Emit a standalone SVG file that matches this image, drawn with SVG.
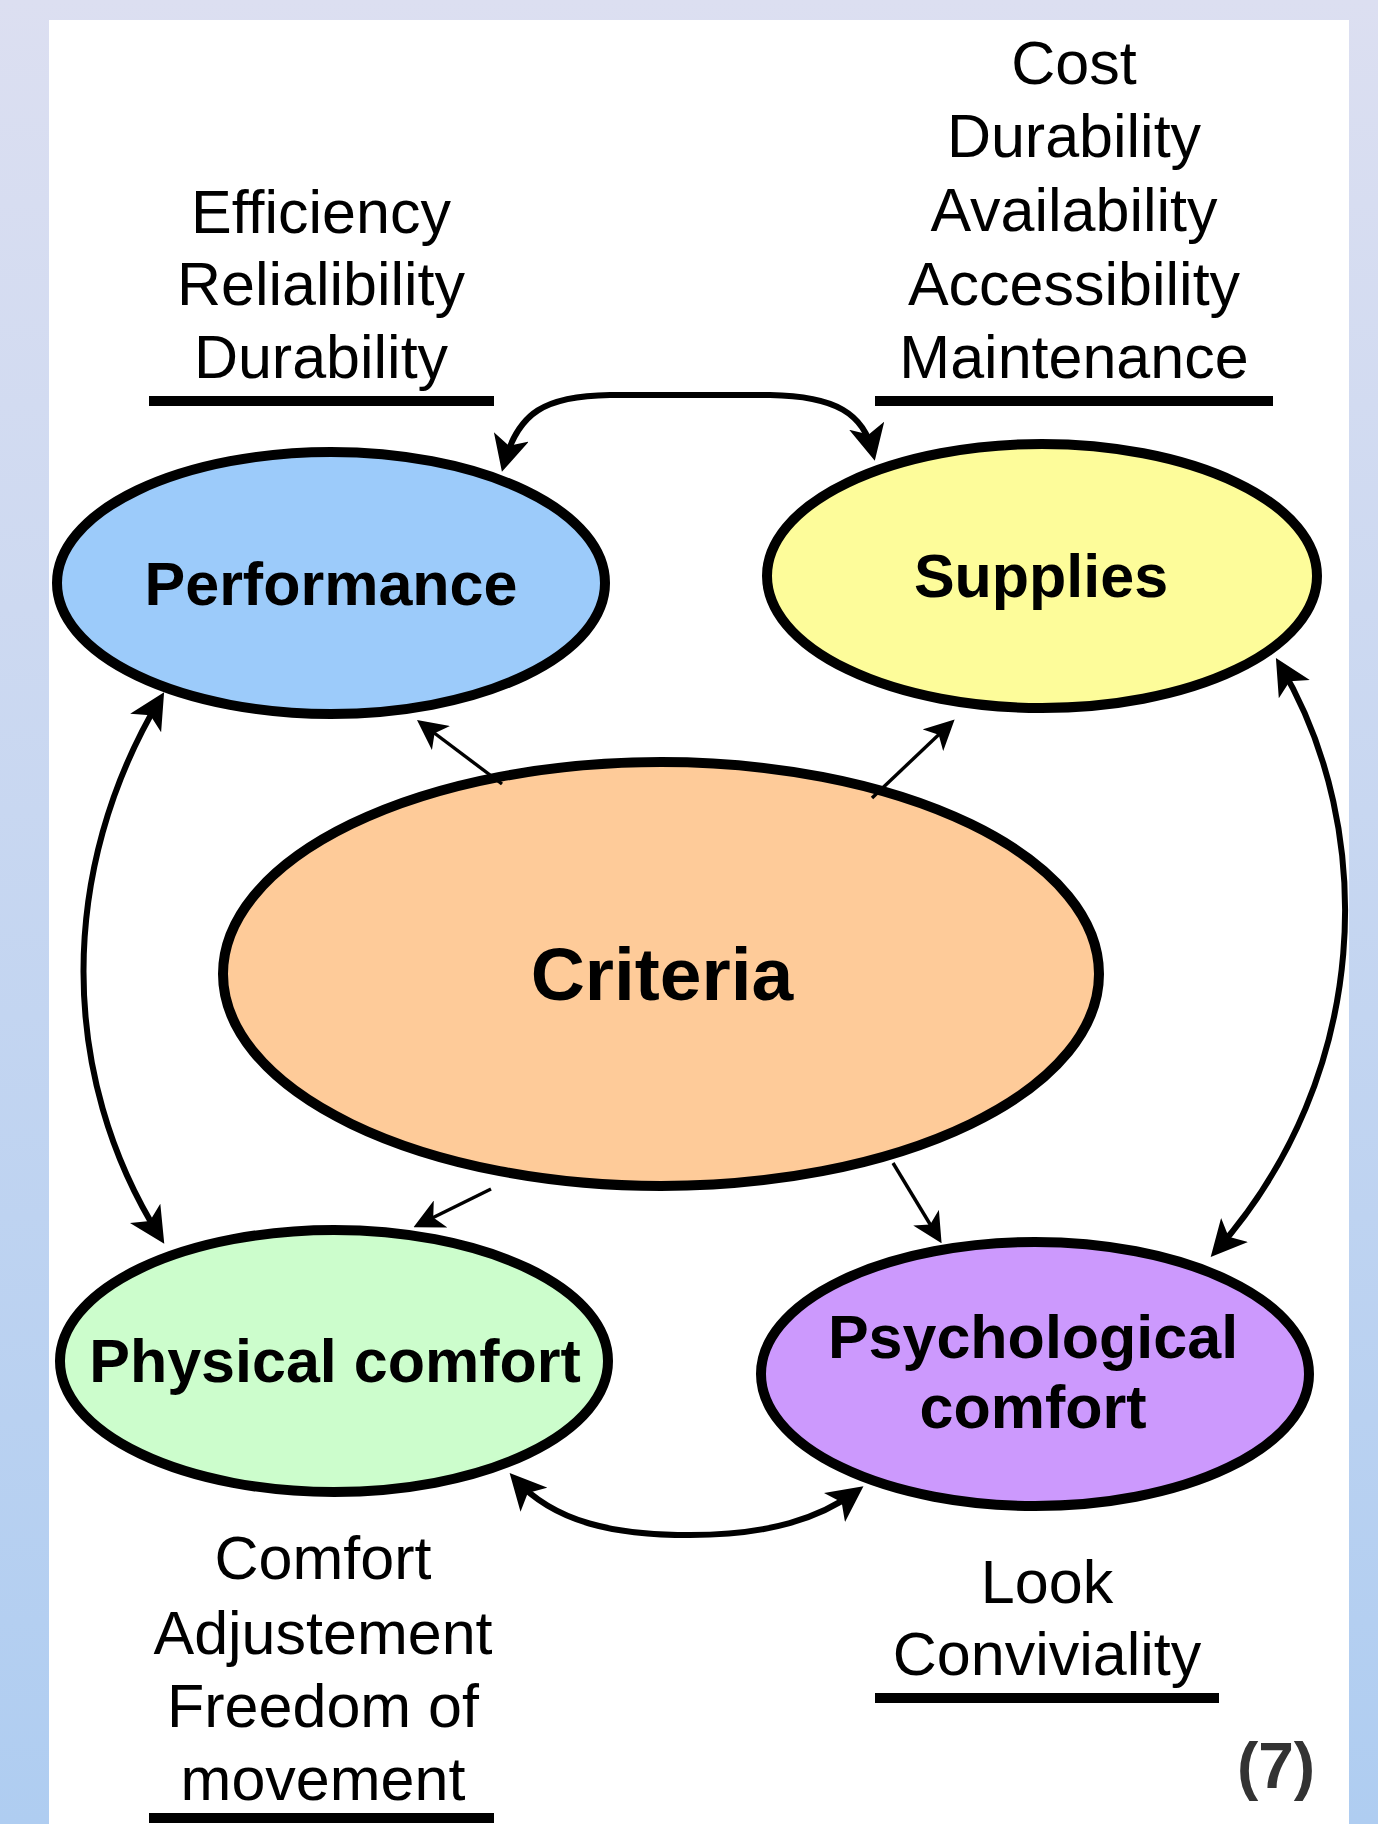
<svg xmlns="http://www.w3.org/2000/svg" width="1378" height="1824" viewBox="0 0 1378 1824">
  <defs>
    <linearGradient id="bg" x1="0" y1="0" x2="0" y2="1">
      <stop offset="0" stop-color="#dcdff1"/>
      <stop offset="1" stop-color="#afcdf1"/>
    </linearGradient>
    <marker id="headThick" markerUnits="userSpaceOnUse" markerWidth="36" markerHeight="36" refX="28" refY="18" orient="auto-start-reverse">
      <path d="M0,0 L36,18 L0,36 L9,18 Z" fill="#000"/>
    </marker>
    <marker id="headThin" markerUnits="userSpaceOnUse" markerWidth="30" markerHeight="30" refX="25" refY="15" orient="auto">
      <path d="M0,0 L30,15 L0,30 L8,15 Z" fill="#000"/>
    </marker>
  </defs>
  <style>
    .node { stroke: #000; stroke-width: 10; }
    .lbl { font-family: "Liberation Sans", Arial, sans-serif; font-weight: bold; fill: #000; text-anchor: middle; }
    .attr { font-family: "Liberation Sans", Arial, sans-serif; font-size: 61px; fill: #000; text-anchor: middle; }
    .rule { fill: #000; }
    .thick { fill: none; stroke: #000; stroke-width: 6; marker-start: url(#headThick); marker-end: url(#headThick); }
    .thin { fill: none; stroke: #000; stroke-width: 3.4; marker-end: url(#headThin); }
  </style>

  <rect x="0" y="0" width="1378" height="1824" fill="url(#bg)"/>
  <rect x="49" y="20" width="1300" height="1804" fill="#ffffff"/>

  <g id="attr-performance">
    <text class="attr" x="321" y="233">Efficiency</text>
    <text class="attr" x="321" y="305">Relialibility</text>
    <text class="attr" x="321" y="378">Durability</text>
    <rect class="rule" x="149" y="396" width="345" height="10"/>
  </g>
  <g id="attr-supplies">
    <text class="attr" x="1074" y="84">Cost</text>
    <text class="attr" x="1074" y="157">Durability</text>
    <text class="attr" x="1074" y="231">Availability</text>
    <text class="attr" x="1074" y="305">Accessibility</text>
    <text class="attr" x="1074" y="378">Maintenance</text>
    <rect class="rule" x="875" y="396" width="398" height="10"/>
  </g>
  <g id="attr-physical">
    <text class="attr" x="323" y="1579">Comfort</text>
    <text class="attr" x="323" y="1654">Adjustement</text>
    <text class="attr" x="323" y="1727">Freedom of</text>
    <text class="attr" x="323" y="1800">movement</text>
    <rect class="rule" x="149" y="1813" width="345" height="10"/>
  </g>
  <g id="attr-psychological">
    <text class="attr" x="1047" y="1603">Look</text>
    <text class="attr" x="1047" y="1675">Conviviality</text>
    <rect class="rule" x="875" y="1693" width="344" height="10"/>
  </g>

  <g id="node-performance">
    <ellipse class="node" cx="331" cy="583" rx="274" ry="131" fill="#9ccbfa"/>
    <text class="lbl" x="331" y="605" font-size="61">Performance</text>
  </g>
  <g id="node-supplies">
    <ellipse class="node" cx="1042" cy="576" rx="275" ry="132" fill="#fdfc9a"/>
    <text class="lbl" x="1041" y="597" font-size="61">Supplies</text>
  </g>
  <g id="node-criteria">
    <ellipse class="node" cx="661" cy="974" rx="438" ry="212" fill="#fecb99"/>
    <text class="lbl" x="662" y="1000" font-size="75">Criteria</text>
  </g>
  <g id="node-physical">
    <ellipse class="node" cx="334" cy="1361" rx="274" ry="131" fill="#ccfdcc"/>
    <text class="lbl" x="335" y="1382" font-size="61">Physical comfort</text>
  </g>
  <g id="node-psychological">
    <ellipse class="node" cx="1035" cy="1374" rx="274" ry="132" fill="#cc99fd"/>
    <text class="lbl" x="1033" y="1358" font-size="61">Psychological</text>
    <text class="lbl" x="1033" y="1428" font-size="61">comfort</text>
  </g>

  <g id="connectors">
    <path class="thick" d="M504,464 C518,412 545,396 610,395 L770,395 C836,396 864,414 873,453"/>
    <path class="thick" d="M160,699 C58,870 58,1075 160,1237"/>
    <path class="thick" d="M1280,665 C1378,830 1372,1075 1216,1251"/>
    <path class="thick" d="M515,1479 C555,1523 615,1535 690,1535 C770,1535 820,1518 857,1491"/>
    <path class="thin" d="M502,784 L421,723"/>
    <path class="thin" d="M872,798 L951,723"/>
    <path class="thin" d="M491,1189 L418,1225"/>
    <path class="thin" d="M893,1163 L939,1239"/>
  </g>

  <text id="fig-number" x="1276" y="1788" font-family="Liberation Sans, Arial, sans-serif" font-weight="bold" font-size="64" fill="#333333" text-anchor="middle">(7)</text>
</svg>
